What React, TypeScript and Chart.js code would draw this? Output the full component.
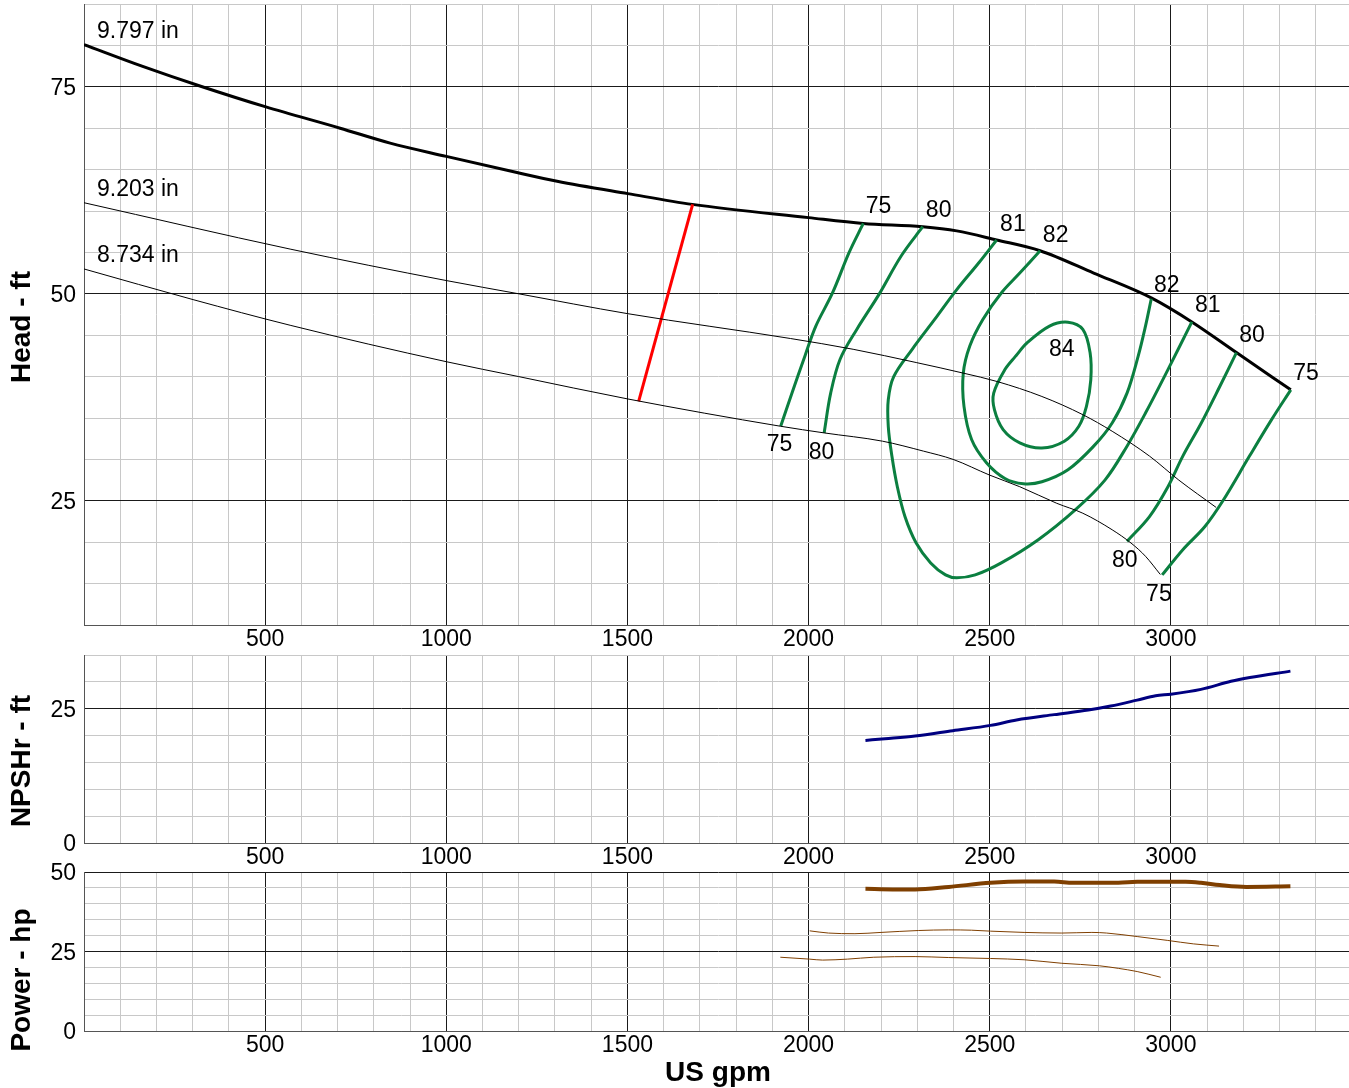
import React, { useEffect, useRef } from 'react';
import { Chart, registerables } from 'chart.js';

Chart.register(...registerables);

const FONT = "'Liberation Sans', Arial, Helvetica, sans-serif";

// ---------- X axis ----------
const X_MIN = 0;
const X_MAX = 3500;
const X_LABELS = [500, 1000, 1500, 2000, 2500, 3000];

// ---------- Head curves (US gpm, ft) ----------
const head9797: [number, number][] = [
  [0, 80.1], [160, 77.5], [320, 75.1], [500, 72.6], [707, 70.0], [845, 68.2], [1000, 66.6],
  [1195, 64.65], [1306, 63.6], [1501, 62.1], [1679, 60.8], [2000, 59.2], [2151, 58.5],
  [2315, 58.1], [2409, 57.6], [2519, 56.5], [2639, 55.2], [2787, 52.5], [2946, 49.5],
  [3058, 46.6], [3181, 42.9], [3331, 38.4],
];
const head9203: [number, number][] = [
  [0, 61.0], [569, 55.4], [1000, 51.6], [1200, 50.0], [1501, 47.6], [1950, 44.6], [2123, 43.3],
  [2297, 41.7], [2429, 40.4], [2521, 39.4], [2644, 37.6], [2757, 35.4], [2838, 33.4],
  [2941, 30.4], [3022, 27.5], [3125, 24.2],
];
const head8734: [number, number][] = [
  [0, 53.0], [301, 49.3], [569, 46.2], [1000, 41.8], [1200, 40.0], [1501, 37.3], [1923, 34.0],
  [2043, 33.2], [2204, 32.2], [2317, 31.0], [2399, 30.0], [2500, 28.1], [2583, 26.7],
  [2685, 24.7], [2757, 23.5], [2838, 21.5], [2890, 19.9], [2930, 18.3], [2971, 16.1],
];
const diameterNames = ['9.797 in', '9.203 in', '8.734 in'];

// minimum flow line
const minFlowLine: [number, number][] = [[1680, 60.8], [1531, 37.0]];

// ---------- Efficiency contours ----------
const eff75Left: [number, number][] = [
  [2151, 58.5], [2112, 55.0], [2066, 50.1], [2020, 46.1], [1990, 42.5], [1954, 38.0], [1923, 34.0],
];
const eff80Left: [number, number][] = [
  [2315, 58.1], [2256, 54.6], [2194, 49.9], [2133, 45.7], [2087, 42.1], [2061, 38.0], [2043, 33.2],
];
const eff81: [number, number][] = [
  [2519, 56.5], [2470, 53.75], [2409, 50.5], [2348, 46.9], [2286, 43.3], [2235, 40.0],
  [2220, 37.2], [2220, 34.0], [2230, 30.4], [2245, 26.7], [2266, 23.1], [2297, 19.9],
  [2337, 17.5], [2378, 16.05], [2409, 15.7], [2460, 16.05], [2532, 17.5], [2634, 20.3],
  [2736, 23.9], [2818, 27.5], [2879, 31.6], [2930, 35.6], [2992, 40.85], [3058, 46.6],
];
const eff82: [number, number][] = [
  [2639, 55.2], [2583, 52.5], [2532, 50.1], [2481, 46.9], [2445, 43.7], [2427, 40.4],
  [2429, 36.4], [2450, 32.4], [2491, 29.6], [2542, 27.7], [2593, 27.06], [2644, 27.3],
  [2716, 28.75], [2787, 31.6], [2838, 34.4], [2879, 38.0], [2910, 42.5], [2930, 46.1], [2946, 49.4],
];
const eff84: [number, number][] = [
  [2572, 42.5], [2603, 44.07], [2665, 46.1], [2716, 46.57], [2757, 45.7], [2777, 42.9],
  [2779, 39.6], [2767, 36.4], [2746, 34.0], [2706, 32.2], [2644, 31.37], [2583, 32.0],
  [2537, 33.6], [2513, 36.0], [2511, 38.0], [2542, 40.85], [2572, 42.5],
];
const eff80Right: [number, number][] = [
  [3181, 42.9], [3135, 38.8], [3084, 34.4], [3033, 30.4], [2992, 26.7], [2941, 23.1], [2879, 20.1],
];
const eff75Right: [number, number][] = [
  [3331, 38.4], [3278, 34.8], [3217, 30.4], [3145, 25.1], [3094, 21.9], [3033, 19.1], [2976, 16.05],
];
const effLabels: [string, number, number][] = [
  ['75', 2193, 60.75], ['80', 2359, 60.27], ['81', 2564, 58.57], ['82', 2682, 57.25],
  ['82', 2989, 51.21], ['81', 3102, 48.79], ['80', 3224, 45.17], ['75', 3373, 40.58],
  ['75', 1920, 32.0], ['80', 2036, 31.04], ['80', 2873, 18.0], ['75', 2967, 13.89],
  ['84', 2699, 43.48],
];

// ---------- NPSHr (ft) ----------
const npshr: [number, number][] = [
  [2157, 19.1], [2211, 19.4], [2294, 19.9], [2398, 20.9], [2502, 21.9], [2574, 22.9],
  [2678, 23.9], [2772, 24.75], [2834, 25.5], [2907, 26.6], [2958, 27.4], [3000, 27.7],
  [3083, 28.6], [3166, 30.1], [3218, 30.8], [3330, 32.0],
];

// ---------- Power (hp) ----------
const power9797: [number, number][] = [
  [2157, 44.7], [2232, 44.5], [2294, 44.5], [2387, 45.3], [2502, 46.6], [2595, 47.0],
  [2678, 47.0], [2730, 46.6], [2855, 46.6], [2907, 46.9], [3041, 46.9], [3083, 46.6],
  [3135, 45.9], [3208, 45.3], [3330, 45.5],
];
const power9203: [number, number][] = [
  [2003, 31.5], [2055, 30.8], [2128, 30.6], [2200, 31.0], [2304, 31.6], [2387, 31.8],
  [2450, 31.7], [2502, 31.4], [2595, 31.0], [2699, 30.8], [2782, 31.0], [2823, 30.8],
  [2907, 29.7], [2990, 28.5], [3062, 27.4], [3133, 26.7],
];
const power8734: [number, number][] = [
  [1922, 23.2], [2003, 22.6], [2039, 22.3], [2107, 22.6], [2180, 23.2], [2294, 23.4],
  [2387, 23.1], [2502, 22.8], [2595, 22.4], [2699, 21.3], [2803, 20.5], [2855, 19.7],
  [2907, 18.7], [2972, 16.9],
];

// ---------- Y axes ----------
const HEAD_RANGE = [10, 85];
const HEAD_LABELS = [25, 50, 75];
const NPSH_RANGE = [0, 35];
const NPSH_LABELS = [0, 25];
const POWER_RANGE = [0, 50];
const POWER_LABELS = [0, 25, 50];

const GRID_MINOR = '#c8c8c8';
const GRID_MAJOR = '#1a1a1a';
const AXIS_COLOR = '#555555';
const GREEN = '#0b7f40';

const pts = (a: [number, number][]) => a.map(([x, y]) => ({ x, y }));

function line(data: [number, number][], color: string, width: number, extra: any = {}) {
  return {
    data: pts(data),
    borderColor: color,
    backgroundColor: color,
    borderWidth: width,
    pointRadius: 0,
    fill: false,
    tension: 0.35,
    ...extra,
  };
}

function xScale(height: number, withTitle: boolean) {
  return {
    type: 'linear',
    min: X_MIN,
    max: X_MAX,
    ticks: {
      stepSize: 100,
      maxTicksLimit: 1000,
      autoSkip: false,
      maxRotation: 0,
      minRotation: 0,
      padding: 1,
      color: '#000',
      font: { family: FONT, size: 23 },
      callback: (v: any) => (X_LABELS.includes(Number(v)) ? String(v) : ''),
    },
    grid: {
      drawTicks: false,
      lineWidth: 1,
      color: (c: any) => {
        const v = c.tick ? c.tick.value : 0;
        if (v === 0) return AXIS_COLOR;
        return v % 500 === 0 ? GRID_MAJOR : GRID_MINOR;
      },
    },
    border: { display: true, color: AXIS_COLOR, width: 1 },
    title: {
      display: withTitle,
      text: 'US gpm',
      color: '#000',
      font: { family: FONT, size: 28, weight: 'bold' },
      padding: { top: 0, bottom: -2 },
    },
    afterFit: (s: any) => {
      s.height = height;
      s.paddingLeft = 0;
      s.paddingRight = 0;
    },
  };
}

function yScale(range: number[], labels: number[]) {
  return {
    type: 'linear',
    min: range[0],
    max: range[1],
    ticks: {
      stepSize: 5,
      maxTicksLimit: 1000,
      autoSkip: false,
      padding: 8,
      labelOffset: 2,
      color: '#000',
      font: { family: FONT, size: 23 },
      callback: (v: any) => (labels.includes(Number(v)) ? String(v) : ''),
    },
    grid: {
      drawTicks: false,
      lineWidth: 1,
      color: (c: any) => {
        const v = c.tick ? c.tick.value : 0;
        if (v === 0) return AXIS_COLOR;
        return v % 25 === 0 ? GRID_MAJOR : GRID_MINOR;
      },
    },
    border: { display: true, color: AXIS_COLOR, width: 1 },
    afterFit: (s: any) => {
      s.width = 84;
      s.paddingTop = 0;
      s.paddingBottom = 0;
    },
  };
}

function overlay(title: string, centerY: number, drawExtra?: (chart: any) => void) {
  return {
    id: 'overlay_' + title.replace(/\W/g, ''),
    afterDraw(chart: any) {
      const ctx = chart.ctx;
      ctx.save();
      ctx.fillStyle = '#000';
      ctx.font = `bold 28px ${FONT}`;
      ctx.translate(22, centerY);
      ctx.rotate(-Math.PI / 2);
      ctx.textAlign = 'center';
      ctx.textBaseline = 'middle';
      ctx.fillText(title, 0, 0);
      ctx.restore();
      if (drawExtra) drawExtra(chart);
    },
  };
}

function drawHeadLabels(chart: any) {
  const ctx = chart.ctx;
  const xs = chart.scales.x;
  const ys = chart.scales.y;
  ctx.save();
  ctx.fillStyle = '#000';
  ctx.font = `23px ${FONT}`;
  ctx.textBaseline = 'middle';
  ctx.textAlign = 'left';
  [head9797, head9203, head8734].forEach((curve, i) => {
    const px = xs.getPixelForValue(curve[0][0]);
    const py = ys.getPixelForValue(curve[0][1]);
    ctx.fillText(diameterNames[i], px + 13, py - 13);
  });
  ctx.textAlign = 'center';
  effLabels.forEach(([t, q, h]) => {
    ctx.fillText(t, xs.getPixelForValue(q), ys.getPixelForValue(h) + 2);
  });
  ctx.restore();
}

function baseOptions(padTop: number, xHeight: number, withTitle: boolean, yr: number[], yl: number[]) {
  return {
    responsive: false,
    animation: false,
    devicePixelRatio: 1,
    events: [],
    layout: { padding: { top: padTop, left: 0, right: 0, bottom: 0 }, autoPadding: false },
    plugins: { legend: { display: false }, tooltip: { enabled: false }, title: { display: false } },
    scales: { x: xScale(xHeight, withTitle), y: yScale(yr, yl) },
  };
}

export default function App() {
  const headRef = useRef<HTMLCanvasElement>(null);
  const npshRef = useRef<HTMLCanvasElement>(null);
  const powerRef = useRef<HTMLCanvasElement>(null);

  useEffect(() => {
    Chart.defaults.font.family = FONT;
    const charts: Chart[] = [];

    const mono = { cubicInterpolationMode: 'monotone' };
    charts.push(
      new Chart(headRef.current as HTMLCanvasElement, {
        type: 'line',
        data: {
          datasets: [
            line(head9203, '#000', 1, mono),
            line(head8734, '#000', 1, mono),
            line(eff75Left, GREEN, 3),
            line(eff80Left, GREEN, 3),
            line(eff81, GREEN, 3),
            line(eff82, GREEN, 3),
            line(eff84, GREEN, 3),
            line(eff80Right, GREEN, 3),
            line(eff75Right, GREEN, 3),
            line(minFlowLine, '#ff0000', 3, { tension: 0 }),
            line(head9797, '#000', 3, mono),
          ],
        },
        options: baseOptions(4, 25, false, HEAD_RANGE, HEAD_LABELS) as any,
        plugins: [overlay('Head - ft', 327, drawHeadLabels)],
      } as any)
    );

    charts.push(
      new Chart(npshRef.current as HTMLCanvasElement, {
        type: 'line',
        data: { datasets: [line(npshr, '#000080', 3, mono)] },
        options: baseOptions(5, 25, false, NPSH_RANGE, NPSH_LABELS) as any,
        plugins: [overlay('NPSHr - ft', 111)],
      } as any)
    );

    charts.push(
      new Chart(powerRef.current as HTMLCanvasElement, {
        type: 'line',
        data: {
          datasets: [
            line(power8734, '#7f3f00', 1, mono),
            line(power9203, '#7f3f00', 1, mono),
            line(power9797, '#7f3f00', 4, mono),
          ],
        },
        options: baseOptions(22, 57, true, POWER_RANGE, POWER_LABELS) as any,
        plugins: [overlay('Power - hp', 130)],
      } as any)
    );

    return () => charts.forEach((c) => c.destroy());
  }, []);

  return (
    <div
      style={{
        position: 'absolute',
        left: 0,
        top: 0,
        width: 1349,
        height: 1088,
        overflow: 'hidden',
        background: '#fff',
      }}
    >
      <canvas ref={headRef} width={1352} height={650} style={{ position: 'absolute', left: 0, top: 0 }} />
      <canvas ref={npshRef} width={1352} height={218} style={{ position: 'absolute', left: 0, top: 650 }} />
      <canvas ref={powerRef} width={1352} height={238} style={{ position: 'absolute', left: 0, top: 850 }} />
    </div>
  );
}
